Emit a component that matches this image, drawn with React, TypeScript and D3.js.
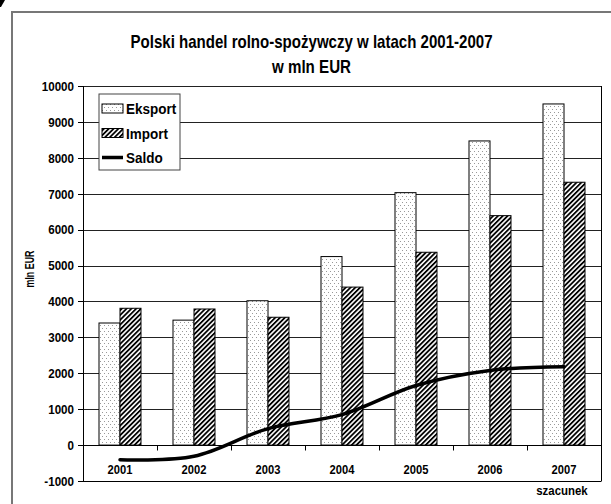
import React, { useEffect, useRef } from "react";
import * as d3 from "d3";

const years = ["2001", "2002", "2003", "2004", "2005", "2006", "2007"];
const eksport = [3400, 3480, 4020, 5250, 7030, 8470, 9500];
const importVals = [3810, 3790, 3560, 4400, 5370, 6390, 7320];
const saldo = [-410, -310, 460, 850, 1660, 2080, 2180];
const yTicks = [-1000, 0, 1000, 2000, 3000, 4000, 5000, 6000, 7000, 8000, 9000, 10000];
const seriesNames = ["Eksport", "Import", "Saldo"];
const titleLines = ["Polski handel rolno-spożywczy w latach 2001-2007", "w mln EUR"];
const yTitle = "mln EUR";
const note = "szacunek";

const FONT = "'Liberation Sans', Arial, sans-serif";

export default function App() {
  const ref = useRef<SVGSVGElement>(null);

  useEffect(() => {
    const svg = d3.select(ref.current);
    svg.selectAll("*").remove();

    const left = 83, right = 601, top = 86, bottom = 481;

    // patterns
    const defs = svg.append("defs");
    const dots = defs
      .append("pattern")
      .attr("id", "dots")
      .attr("patternUnits", "userSpaceOnUse")
      .attr("width", 4)
      .attr("height", 6);
    dots.append("rect").attr("width", 4).attr("height", 6).attr("fill", "#fff");
    dots.append("rect").attr("x", 1).attr("y", 1).attr("width", 1).attr("height", 1).attr("fill", "#999");
    dots.append("rect").attr("x", 3).attr("y", 4).attr("width", 1).attr("height", 1).attr("fill", "#999");

    const hatch = defs
      .append("pattern")
      .attr("id", "hatch")
      .attr("patternUnits", "userSpaceOnUse")
      .attr("width", 3.4)
      .attr("height", 4)
      .attr("patternTransform", "rotate(45)");
    hatch.append("rect").attr("width", 3.4).attr("height", 4).attr("fill", "#fff");
    hatch
      .append("line")
      .attr("x1", 0.9)
      .attr("y1", 0)
      .attr("x2", 0.9)
      .attr("y2", 4)
      .attr("stroke", "#000")
      .attr("stroke-width", 1.8);

    // outer frame
    svg
      .append("rect")
      .attr("x", 12)
      .attr("y", 12)
      .attr("width", 640)
      .attr("height", 540)
      .attr("fill", "#fff")
      .attr("stroke", "#777")
      .attr("stroke-width", 2);
    svg.append("path").attr("d", "M0,0 L5,0 L1,7 L0,7 Z").attr("fill", "#000");

    // title
    const tw = [362, 79];
    titleLines.forEach((t, i) => {
      svg
        .append("text")
        .attr("x", 311.5)
        .attr("y", 47.5 + i * 25)
        .attr("text-anchor", "middle")
        .attr("font-family", FONT)
        .attr("font-weight", "bold")
        .attr("font-size", 19)
        .attr("textLength", tw[i])
        .attr("lengthAdjust", "spacingAndGlyphs")
        .text(t);
    });

    const x = d3.scaleBand<string>().domain(years).range([left, right]).padding(0);
    const sub = d3
      .scaleBand<string>()
      .domain(["Eksport", "Import"])
      .range([0, x.bandwidth()])
      .paddingInner(0)
      .paddingOuter(0.762);
    const y = d3.scaleLinear().domain([-1000, 10000]).range([bottom, top]);

    const g = svg.append("g");

    // grid
    g.selectAll(".grid")
      .data(yTicks)
      .enter()
      .append("line")
      .attr("x1", left)
      .attr("x2", right)
      .attr("y1", (d) => Math.round(y(d)) + 0.5)
      .attr("y2", (d) => Math.round(y(d)) + 0.5)
      .attr("stroke", "#222")
      .attr("stroke-width", 1);

    // y tick marks + labels
    g.selectAll(".yt")
      .data(yTicks)
      .enter()
      .append("line")
      .attr("x1", left - 5)
      .attr("x2", left)
      .attr("y1", (d) => Math.round(y(d)) + 0.5)
      .attr("y2", (d) => Math.round(y(d)) + 0.5)
      .attr("stroke", "#000");

    g.selectAll(".yl")
      .data(yTicks)
      .enter()
      .append("text")
      .attr("transform", (d) => `translate(74,${y(d) + 4.8}) scale(0.86,1)`)
      .attr("text-anchor", "end")
      .attr("font-family", FONT)
      .attr("font-weight", "bold")
      .attr("font-size", 13.5)
      .text((d) => d);

    // bars
    const groups = g
      .selectAll(".yr")
      .data(years)
      .enter()
      .append("g")
      .attr("transform", (d) => `translate(${x(d)},0)`);

    groups
      .append("rect")
      .attr("x", () => sub("Eksport")!)
      .attr("y", (d, i) => y(eksport[i]))
      .attr("width", sub.bandwidth())
      .attr("height", (d, i) => y(0) - y(eksport[i]))
      .attr("fill", "url(#dots)")
      .attr("stroke", "#000")
      .attr("stroke-width", 1);

    groups
      .append("rect")
      .attr("x", () => sub("Import")!)
      .attr("y", (d, i) => y(importVals[i]))
      .attr("width", sub.bandwidth())
      .attr("height", (d, i) => y(0) - y(importVals[i]))
      .attr("fill", "url(#hatch)")
      .attr("stroke", "#000")
      .attr("stroke-width", 1);

    // plot borders
    g.append("line").attr("x1", left + 0.5).attr("x2", left + 0.5).attr("y1", top).attr("y2", bottom + 0.5).attr("stroke", "#000");
    g.append("line").attr("x1", right + 0.5).attr("x2", right + 0.5).attr("y1", top).attr("y2", bottom + 0.5).attr("stroke", "#000");
    g.append("line").attr("x1", left).attr("x2", right).attr("y1", Math.round(y(-1000)) + 0.5).attr("y2", Math.round(y(-1000)) + 0.5).attr("stroke", "#000");

    // x axis at zero
    const y0 = Math.round(y(0)) + 0.5;
    g.append("line").attr("x1", left).attr("x2", right + 1).attr("y1", y0).attr("y2", y0).attr("stroke", "#000").attr("stroke-width", 1.2);
    const bounds = years.map((d) => x(d)!).concat([right]);
    g.selectAll(".xt")
      .data(bounds)
      .enter()
      .append("line")
      .attr("x1", (d) => Math.round(d) + 0.5)
      .attr("x2", (d) => Math.round(d) + 0.5)
      .attr("y1", y0)
      .attr("y2", y0 + 5)
      .attr("stroke", "#000");

    g.selectAll(".xl")
      .data(years)
      .enter()
      .append("text")
      .attr("transform", (d) => `translate(${x(d)! + x.bandwidth() / 2},474) scale(0.86,1)`)
      .attr("text-anchor", "middle")
      .attr("font-family", FONT)
      .attr("font-weight", "bold")
      .attr("font-size", 13)
      .text((d) => d);

    g.append("text")
      .attr("transform", `translate(562,494.5) scale(0.88,1)`)
      .attr("text-anchor", "middle")
      .attr("font-family", FONT)
      .attr("font-weight", "bold")
      .attr("font-size", 13)
      .text(note);

    // saldo line
    const line = d3
      .line<number>()
      .x((d, i) => x(years[i])! + x.bandwidth() / 2)
      .y((d) => y(d))
      .curve(d3.curveCatmullRom.alpha(0.5));
    g.append("path")
      .attr("d", line(saldo))
      .attr("fill", "none")
      .attr("stroke", "#000")
      .attr("stroke-width", 3.5)
      .attr("stroke-linecap", "round");

    // y axis title
    svg
      .append("text")
      .attr("transform", "translate(34,269) rotate(-90)")
      .attr("text-anchor", "middle")
      .attr("font-family", FONT)
      .attr("font-weight", "bold")
      .attr("font-size", 12.5)
      .attr("textLength", 37)
      .attr("lengthAdjust", "spacingAndGlyphs")
      .text(yTitle);

    // legend
    const lg = svg.append("g").attr("transform", "translate(99,94)");
    lg.append("rect")
      .attr("width", 81)
      .attr("height", 76)
      .attr("fill", "#fff")
      .attr("stroke", "#444")
      .attr("stroke-width", 1);
    seriesNames.forEach((s, i) => {
      const cy = 14.5 + i * 24.5;
      if (s === "Saldo") {
        lg.append("line").attr("x1", 3).attr("x2", 24).attr("y1", cy).attr("y2", cy).attr("stroke", "#000").attr("stroke-width", 3.5);
      } else {
        lg.append("rect")
          .attr("x", 3)
          .attr("y", cy - 4.5)
          .attr("width", 21)
          .attr("height", 9)
          .attr("fill", s === "Eksport" ? "url(#dots)" : "url(#hatch)")
          .attr("stroke", "#000")
          .attr("stroke-width", 1);
      }
      lg.append("text")
        .attr("transform", `translate(27,${cy + 5.5}) scale(0.9,1)`)
        .attr("font-family", FONT)
        .attr("font-weight", "bold")
        .attr("font-size", 15)
        .text(s);
    });
  }, []);

  return (
    <div style={{ position: "absolute", left: 0, top: 0 }}>
      <svg ref={ref} width={611} height={504} style={{ display: "block", background: "#fff" }} />
    </div>
  );
}
